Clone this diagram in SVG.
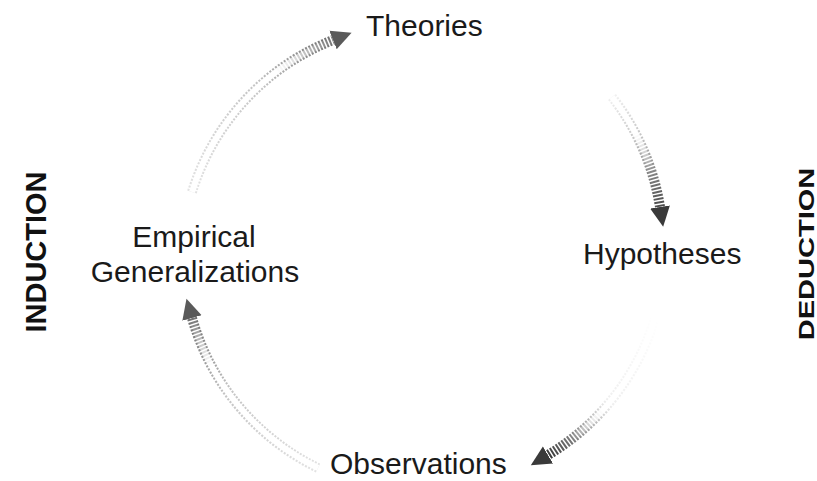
<svg xmlns="http://www.w3.org/2000/svg" width="817" height="481" viewBox="0 0 817 481">
  <style>
    .lbl { font-family: "Liberation Sans", Arial, sans-serif; font-size: 30px; fill: #1a1a1a; }
    .side { font-family: "Liberation Sans", Arial, sans-serif; font-size: 29px; font-weight: bold; fill: #111; }
    .outer { fill: none; stroke-width: 10; stroke-dasharray: 2 1.5; }
    .inner { fill: none; stroke-width: 6; }
  </style>
  <defs>
    <marker id="head" markerUnits="userSpaceOnUse" markerWidth="24" markerHeight="24" viewBox="0 -12 24 24" refX="0" refY="0" orient="auto">
      <path d="M0,-10 L20,0 L0,10 Z" fill="#5a5a5a"/>
    </marker>
    <marker id="headDark" markerUnits="userSpaceOnUse" markerWidth="24" markerHeight="24" viewBox="0 -12 24 24" refX="0" refY="0" orient="auto">
      <path d="M0,-10 L20,0 L0,10 Z" fill="#3a3a3a"/>
    </marker>
    <linearGradient id="g1o" gradientUnits="userSpaceOnUse" x1="192" y1="192" x2="333" y2="40">
      <stop offset="0" stop-color="#e2e2e2"/><stop offset="0.6" stop-color="#c4c4c4"/><stop offset="1" stop-color="#707070"/>
    </linearGradient>
    <linearGradient id="g1i" gradientUnits="userSpaceOnUse" x1="192" y1="192" x2="333" y2="40">
      <stop offset="0" stop-color="#fff"/><stop offset="0.7" stop-color="#fff"/><stop offset="1" stop-color="#fff" stop-opacity="0"/>
    </linearGradient>
    <linearGradient id="g2o" gradientUnits="userSpaceOnUse" x1="612" y1="97" x2="660" y2="207">
      <stop offset="0" stop-color="#f0f0f0"/><stop offset="0.4" stop-color="#c4c4c4"/><stop offset="1" stop-color="#4a4a4a"/>
    </linearGradient>
    <linearGradient id="g2i" gradientUnits="userSpaceOnUse" x1="612" y1="97" x2="660" y2="207">
      <stop offset="0" stop-color="#fff"/><stop offset="0.35" stop-color="#fff"/><stop offset="0.7" stop-color="#fff" stop-opacity="0"/>
    </linearGradient>
    <linearGradient id="g3o" gradientUnits="userSpaceOnUse" x1="655" y1="318" x2="548" y2="455">
      <stop offset="0" stop-color="#fff"/><stop offset="0.55" stop-color="#eee"/><stop offset="0.75" stop-color="#a0a0a0"/><stop offset="1" stop-color="#3a3a3a"/>
    </linearGradient>
    <linearGradient id="g3i" gradientUnits="userSpaceOnUse" x1="655" y1="318" x2="548" y2="455">
      <stop offset="0" stop-color="#fff"/><stop offset="0.6" stop-color="#fff"/><stop offset="0.85" stop-color="#fff" stop-opacity="0"/>
    </linearGradient>
    <linearGradient id="g4o" gradientUnits="userSpaceOnUse" x1="318" y1="468" x2="192" y2="318">
      <stop offset="0" stop-color="#e2e2e2"/><stop offset="0.6" stop-color="#c4c4c4"/><stop offset="1" stop-color="#707070"/>
    </linearGradient>
    <linearGradient id="g4i" gradientUnits="userSpaceOnUse" x1="318" y1="468" x2="192" y2="318">
      <stop offset="0" stop-color="#fff"/><stop offset="0.75" stop-color="#fff"/><stop offset="1" stop-color="#fff" stop-opacity="0"/>
    </linearGradient>
  </defs>

  <rect width="817" height="481" fill="#fff"/>

  <g id="connectors">
    <g id="arrow-induction-up">
      <path class="outer" stroke="url(#g1o)" d="M192,192 A240,240 0 0 1 333,40" marker-end="url(#head)"/>
      <path class="inner" stroke="url(#g1i)" d="M192,192 A240,240 0 0 1 333,40"/>
    </g>
    <g id="arrow-deduction-down">
      <path class="outer" stroke="url(#g2o)" d="M612,97 A240,240 0 0 1 660,207" marker-end="url(#headDark)"/>
      <path class="inner" stroke="url(#g2i)" d="M612,97 A240,240 0 0 1 660,207"/>
    </g>
    <g id="arrow-to-observations">
      <path class="outer" stroke="url(#g3o)" d="M655,318 A240,240 0 0 1 548,455" marker-end="url(#headDark)"/>
      <path class="inner" stroke="url(#g3i)" d="M655,318 A240,240 0 0 1 548,455"/>
    </g>
    <g id="arrow-to-generalizations">
      <path class="outer" stroke="url(#g4o)" d="M318,468 A240,240 0 0 1 192,318" marker-end="url(#head)"/>
      <path class="inner" stroke="url(#g4i)" d="M318,468 A240,240 0 0 1 192,318"/>
    </g>
  </g>

  <g id="theories"><text class="lbl" x="366" y="36">Theories</text></g>
  <g id="hypotheses"><text class="lbl" x="583" y="264">Hypotheses</text></g>
  <g id="observations"><text class="lbl" x="330" y="474">Observations</text></g>
  <g id="empirical-generalizations">
    <text class="lbl" x="194" y="247" text-anchor="middle">Empirical</text>
    <text class="lbl" x="195" y="282" text-anchor="middle">Generalizations</text>
  </g>
  <g id="induction"><text class="side" transform="translate(46,252) rotate(-90)" text-anchor="middle">INDUCTION</text></g>
  <g id="deduction"><text class="side" transform="translate(814,254) rotate(-90) scale(1,0.75)" text-anchor="middle">DEDUCTION</text></g>
</svg>
